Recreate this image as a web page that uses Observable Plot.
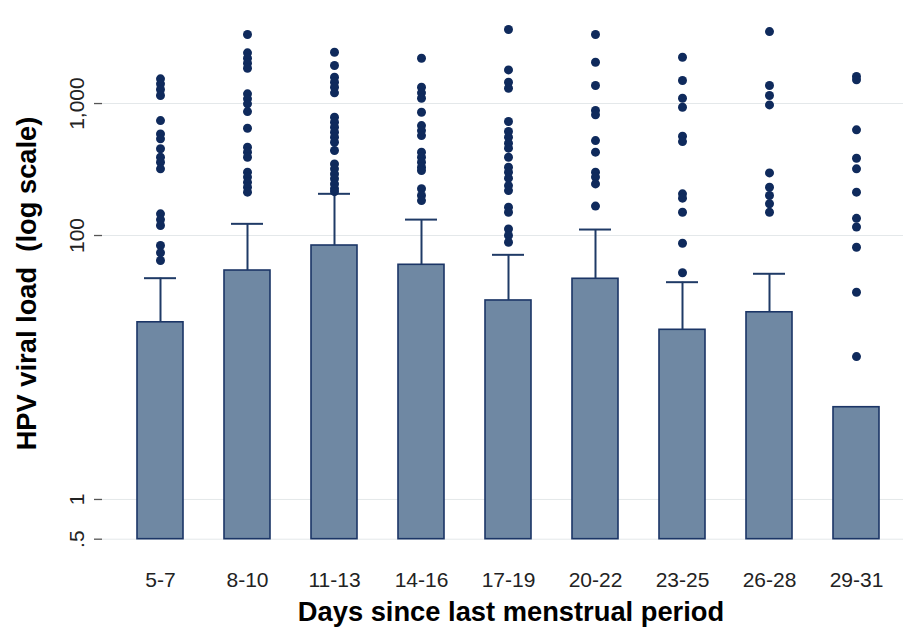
<!DOCTYPE html>
<html>
<head>
<meta charset="utf-8">
<script src="https://cdn.jsdelivr.net/npm/d3@7"></script>
<script src="https://cdn.jsdelivr.net/npm/@observablehq/plot@0.6"></script>
<style>
  html, body { margin: 0; padding: 0; background: #fff; }
  #chart { width: 903px; height: 633px; overflow: hidden; }
</style>
</head>
<body>
<div id="chart"></div>
<script>
// ---- data ----
const categories = ["5-7", "8-10", "11-13", "14-16", "17-19", "20-22", "23-25", "26-28", "29-31"];
const means   = [22.0, 54.3, 84.0, 60.0, 32.2, 47.0, 19.3, 26.2, 5.0];
const upperCI = [47.5, 122.6, 207, 132, 71.4, 111, 44.3, 51.3, null];
const barBase = 0.5;

const out_5_7   = [1538, 1410, 1277, 1150, 743, 589, 540, 454, 392, 359, 320, 146, 132, 119, 84, 74, 64.7];
const out_8_10  = [3334, 2421, 2205, 2020, 1851, 1184, 1086, 995, 869, 650, 467, 428, 392, 302, 277, 253, 232, 213];
const out_11_13 = [2447, 1941, 1583, 1450, 1329, 1205, 788, 722, 661, 606, 556, 509, 441, 349, 320, 293, 269, 246, 226, 215];
const out_14_16 = [2205, 1329, 1205, 1097, 859, 681, 624, 572, 428, 392, 359, 329, 311, 226, 201, 184];
const out_17_19 = [3636, 1799, 1450, 1306, 731, 614, 556, 500, 459, 392, 329, 302, 272, 239, 219, 164, 150, 112, 100, 89];
const out_20_22 = [3334, 2056, 1369, 885, 821, 524, 428, 302, 277, 246, 167];
const out_23_25 = [2243, 1494, 1097, 938, 565, 515, 207, 192, 150, 87.4, 52.2];
const out_26_28 = [3510, 1369, 1150, 977, 298, 232, 201, 174, 150];
const out_29_31 = [1602, 1513, 632, 385, 320, 213, 135, 116, 81.5, 37.2, 12.1];
const outliers = [out_5_7, out_8_10, out_11_13, out_14_16, out_17_19, out_20_22, out_23_25, out_26_28, out_29_31];

const yTicks = [0.5, 1, 100, 1000];
const yTickLabels = [".5", "1", "100", "1,000"];
const yDomain = [0.357, 5250];

const xTitle = "Days since last menstrual period";
const yTitle = "HPV viral load  (log scale)";

// ---- tables built from the arrays ----
const bars = categories.map((c, i) => ({cat: c, mean: means[i], upper: upperCI[i]}));
const errs = bars.filter(d => d.upper != null);
const dots = categories.flatMap((c, i) => outliers[i].map(v => ({cat: c, v})));
const yTickTable = yTicks.map((t, i) => ({t, label: yTickLabels[i]}));

const navy = "#0f2a5c";
const font = "'Liberation Sans', Arial, sans-serif";

const chart = Plot.plot({
  width: 903,
  height: 633,
  marginTop: 8,
  marginBottom: 75,
  marginLeft: 102,
  marginRight: 0,
  style: {fontFamily: font, background: "#fff", overflow: "visible"},
  x: {type: "band", domain: categories, paddingInner: 0.477, paddingOuter: 0.29, align: 0.59},
  y: {type: "log", domain: yDomain},
  marks: [
    Plot.gridY(yTicks, {stroke: "#e4e8ea", strokeOpacity: 1, strokeWidth: 1}),
    Plot.axisY(yTicks, {
      tickFormat: () => "", tickSize: 8, line: true, label: null,
      stroke: "#555", strokeWidth: 1.3
    }),
    Plot.text(yTickTable, {
      y: "t", text: "label", frameAnchor: "left", rotate: -90,
      textAnchor: "middle", lineAnchor: "bottom", dx: -19,
      fontSize: 21, fill: "#222"
    }),
    Plot.axisX({
      tickSize: 0, tickPadding: 14, fontSize: 21, line: true, label: null,
      stroke: "#555", fill: "#222", strokeWidth: 1.3
    }),
    Plot.barY(bars, {x: "cat", y1: barBase, y2: "mean", fill: "#6f88a3", stroke: "#1b3566", strokeWidth: 1.6}),
    Plot.ruleX(errs, {x: "cat", y1: "mean", y2: "upper", stroke: "#1f3a66", strokeWidth: 2}),
    Plot.tickY(errs, {x: "cat", y: "upper", insetLeft: 7, insetRight: 7, stroke: "#1f3a66", strokeWidth: 2}),
    Plot.dot(dots, {x: "cat", y: "v", r: 4.5, fill: navy, stroke: "none"}),
    Plot.text([xTitle], {text: d => d, frameAnchor: "bottom", textAnchor: "middle", dx: 8, dy: 62, fontSize: 27.3, fontWeight: "bold", fill: "#000"}),
    Plot.text([yTitle], {text: d => d, frameAnchor: "left", textAnchor: "middle", rotate: -90, dx: -75, dy: 0, fontSize: 27.3, fontWeight: "bold", fill: "#000"})
  ]
});
document.getElementById("chart").appendChild(chart);
</script>
</body>
</html>
